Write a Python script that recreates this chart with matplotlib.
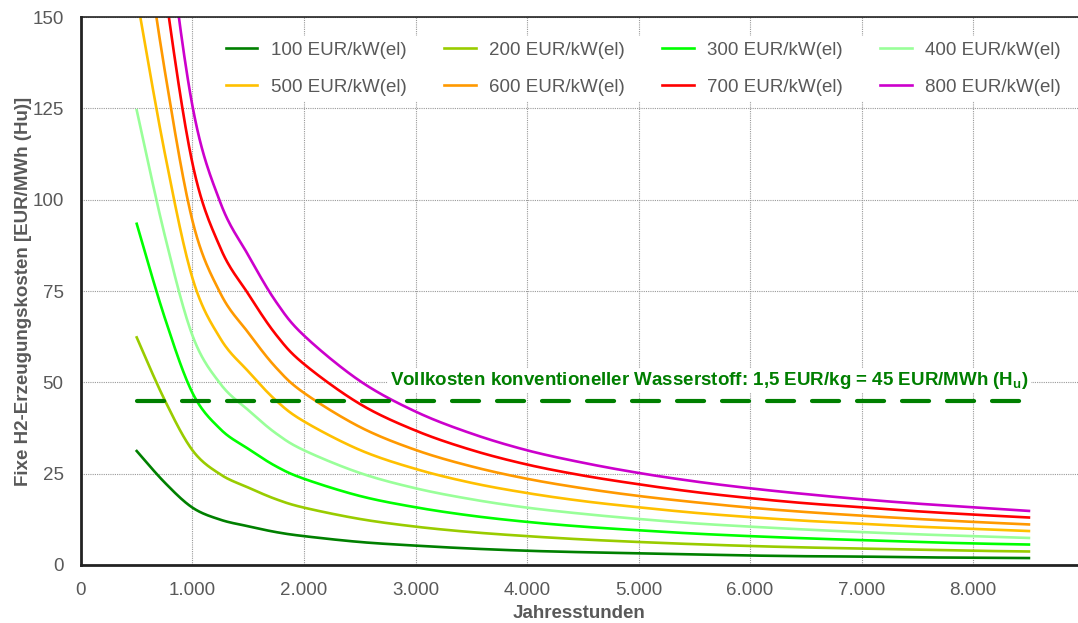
import matplotlib
matplotlib.use("Agg")
import matplotlib.pyplot as plt
import numpy as np
from matplotlib.ticker import FuncFormatter, MultipleLocator

plt.rcParams["font.family"] = ["Liberation Sans", "DejaVu Sans"]

# operating hours per year
hours = [500, 750, 1000, 1250, 1500, 1750, 2000, 2500, 3000, 3500,
         4000, 4500, 5000, 5500, 6000, 6500, 7000, 7500, 8000, 8500]

# fixed H2 production cost in EUR/MWh (Hu), one list per electrolyser capex
cost_100 = [31.2, 22.6, 15.7, 12.4, 10.6, 9.0, 7.9, 6.3, 5.3, 4.5,
            3.9, 3.5, 3.2, 2.9, 2.6, 2.4, 2.3, 2.1, 2.0, 1.9]
cost_200 = [62.3, 45.2, 31.4, 24.8, 21.2, 18.0, 15.7, 12.6, 10.5, 9.0,
            7.9, 7.0, 6.3, 5.7, 5.2, 4.8, 4.5, 4.2, 3.9, 3.7]
cost_300 = [93.4, 67.8, 47.1, 37.2, 31.8, 27.0, 23.6, 18.9, 15.8, 13.5,
            11.8, 10.5, 9.5, 8.6, 7.9, 7.3, 6.8, 6.3, 5.9, 5.6]
cost_400 = [124.5, 90.4, 62.8, 49.6, 42.4, 36.0, 31.4, 25.2, 21.0, 18.0,
            15.7, 14.0, 12.6, 11.4, 10.5, 9.7, 9.0, 8.4, 7.9, 7.4]
cost_500 = [155.6, 113.0, 78.5, 62.0, 53.0, 45.0, 39.3, 31.5, 26.3, 22.5,
            19.7, 17.5, 15.8, 14.3, 13.1, 12.1, 11.3, 10.5, 9.9, 9.3]
cost_600 = [186.8, 135.6, 94.2, 74.4, 63.6, 54.0, 47.1, 37.8, 31.5, 27.0,
            23.6, 21.0, 18.9, 17.2, 15.7, 14.5, 13.5, 12.6, 11.8, 11.1]
cost_700 = [217.9, 158.2, 109.9, 86.8, 74.2, 63.0, 55.0, 44.1, 36.8, 31.5,
            27.5, 24.5, 22.1, 20.0, 18.3, 16.9, 15.8, 14.7, 13.8, 13.0]
cost_800 = [249.0, 180.8, 125.6, 99.2, 84.8, 72.0, 62.8, 50.4, 42.0, 36.0,
            31.4, 28.0, 25.2, 22.9, 21.0, 19.4, 18.0, 16.8, 15.8, 14.8]

labels = ["100 EUR/kW(el)", "200 EUR/kW(el)", "300 EUR/kW(el)", "400 EUR/kW(el)",
          "500 EUR/kW(el)", "600 EUR/kW(el)", "700 EUR/kW(el)", "800 EUR/kW(el)"]
series = [cost_100, cost_200, cost_300, cost_400,
          cost_500, cost_600, cost_700, cost_800]
colors = ["#008000", "#99CC00", "#00FF00", "#99FF99",
          "#FFC000", "#FF9900", "#FF0000", "#CC00CC"]

reference_cost = 45
reference_span = [500, 8500]

grey = "#595959"
fs = 13.5


def smooth_line(xs, ys, steps=24):
    # cubic Bezier through every point, handles at 1/6 of the neighbour chord
    x = np.asarray(xs, float)
    y = np.asarray(ys, float)
    xp = np.concatenate([[x[0]], x, [x[-1]]])
    yp = np.concatenate([[y[0]], y, [y[-1]]])
    t = np.linspace(0, 1, steps, endpoint=False)[:, None]
    out_x, out_y = [], []
    for i in range(len(x) - 1):
        p0 = np.array([x[i], y[i]])
        p3 = np.array([x[i + 1], y[i + 1]])
        p1 = p0 + (np.array([xp[i + 2], yp[i + 2]]) - np.array([xp[i], yp[i]])) / 6
        p2 = p3 - (np.array([xp[i + 3], yp[i + 3]]) - np.array([xp[i + 1], yp[i + 1]])) / 6
        seg = ((1 - t) ** 3) * p0 + 3 * ((1 - t) ** 2) * t * p1 \
            + 3 * (1 - t) * t ** 2 * p2 + t ** 3 * p3
        out_x.append(seg[:, 0])
        out_y.append(seg[:, 1])
    out_x.append([x[-1]])
    out_y.append([y[-1]])
    return np.concatenate(out_x), np.concatenate(out_y)


fig = plt.figure(figsize=(10.78, 6.23), dpi=100)
ax = fig.add_axes([0.0751, 0.0931, 0.9249, 0.8796])

handles = []
for values, label, color in zip(series, labels, colors):
    sx, sy = smooth_line(hours, values)
    line, = ax.plot(sx, sy, color=color, lw=1.9, label=label, solid_joinstyle="round")
    handles.append(line)

ax.plot(reference_span, [reference_cost, reference_cost], color="#007F00",
        lw=3, dashes=(6.5, 4.3), dash_capstyle="round")
ax.text(reference_span[1], reference_cost + 5.4,
        "Vollkosten konventioneller Wasserstoff: 1,5 EUR/kg = 45 EUR/MWh (H$_\\mathregular{u}$)",
        ha="right", va="center", color="#007F00", fontsize=13.5, fontweight="bold",
        bbox=dict(facecolor="white", edgecolor="none", pad=1.5))

ax.set_xlim(0, 8940)
ax.set_ylim(0, 150)
ax.xaxis.set_major_locator(MultipleLocator(1000))
ax.yaxis.set_major_locator(MultipleLocator(25))
ax.xaxis.set_major_formatter(FuncFormatter(lambda v, p: f"{int(v):,}".replace(",", ".")))
ax.grid(True, color="#9a9a9a", ls=(0, (1, 1)), lw=0.8)
ax.set_axisbelow(True)
ax.tick_params(length=0, labelsize=fs, labelcolor=grey, pad=12.5)

for side in ["left", "bottom"]:
    ax.spines[side].set_linewidth(2)
    ax.spines[side].set_color("#222222")
ax.spines["top"].set_linewidth(1.2)
ax.spines["top"].set_color("#222222")
ax.spines["right"].set_visible(False)

ax.set_xlabel("Jahresstunden", fontsize=fs, fontweight="bold", color=grey, labelpad=4)
ax.set_ylabel("Fixe H2-Erzeugungskosten [EUR/MWh (Hu)]", fontsize=fs,
              fontweight="bold", color=grey, labelpad=0)

# legend is filled column by column, so interleave the two rows
order = [0, 4, 1, 5, 2, 6, 3, 7]
leg = ax.legend([handles[i] for i in order], [labels[i] for i in order],
                ncol=4, loc="upper right", bbox_to_anchor=(0.998, 0.982), frameon=True,
                fontsize=fs, handlelength=1.7, columnspacing=2.0, handletextpad=0.7,
                labelspacing=1.05, borderpad=0.3)
leg.get_frame().set_facecolor("white")
leg.get_frame().set_edgecolor("none")
leg.get_frame().set_alpha(1)
for t in leg.get_texts():
    t.set_color(grey)

fig.savefig("out.png", dpi=100)
